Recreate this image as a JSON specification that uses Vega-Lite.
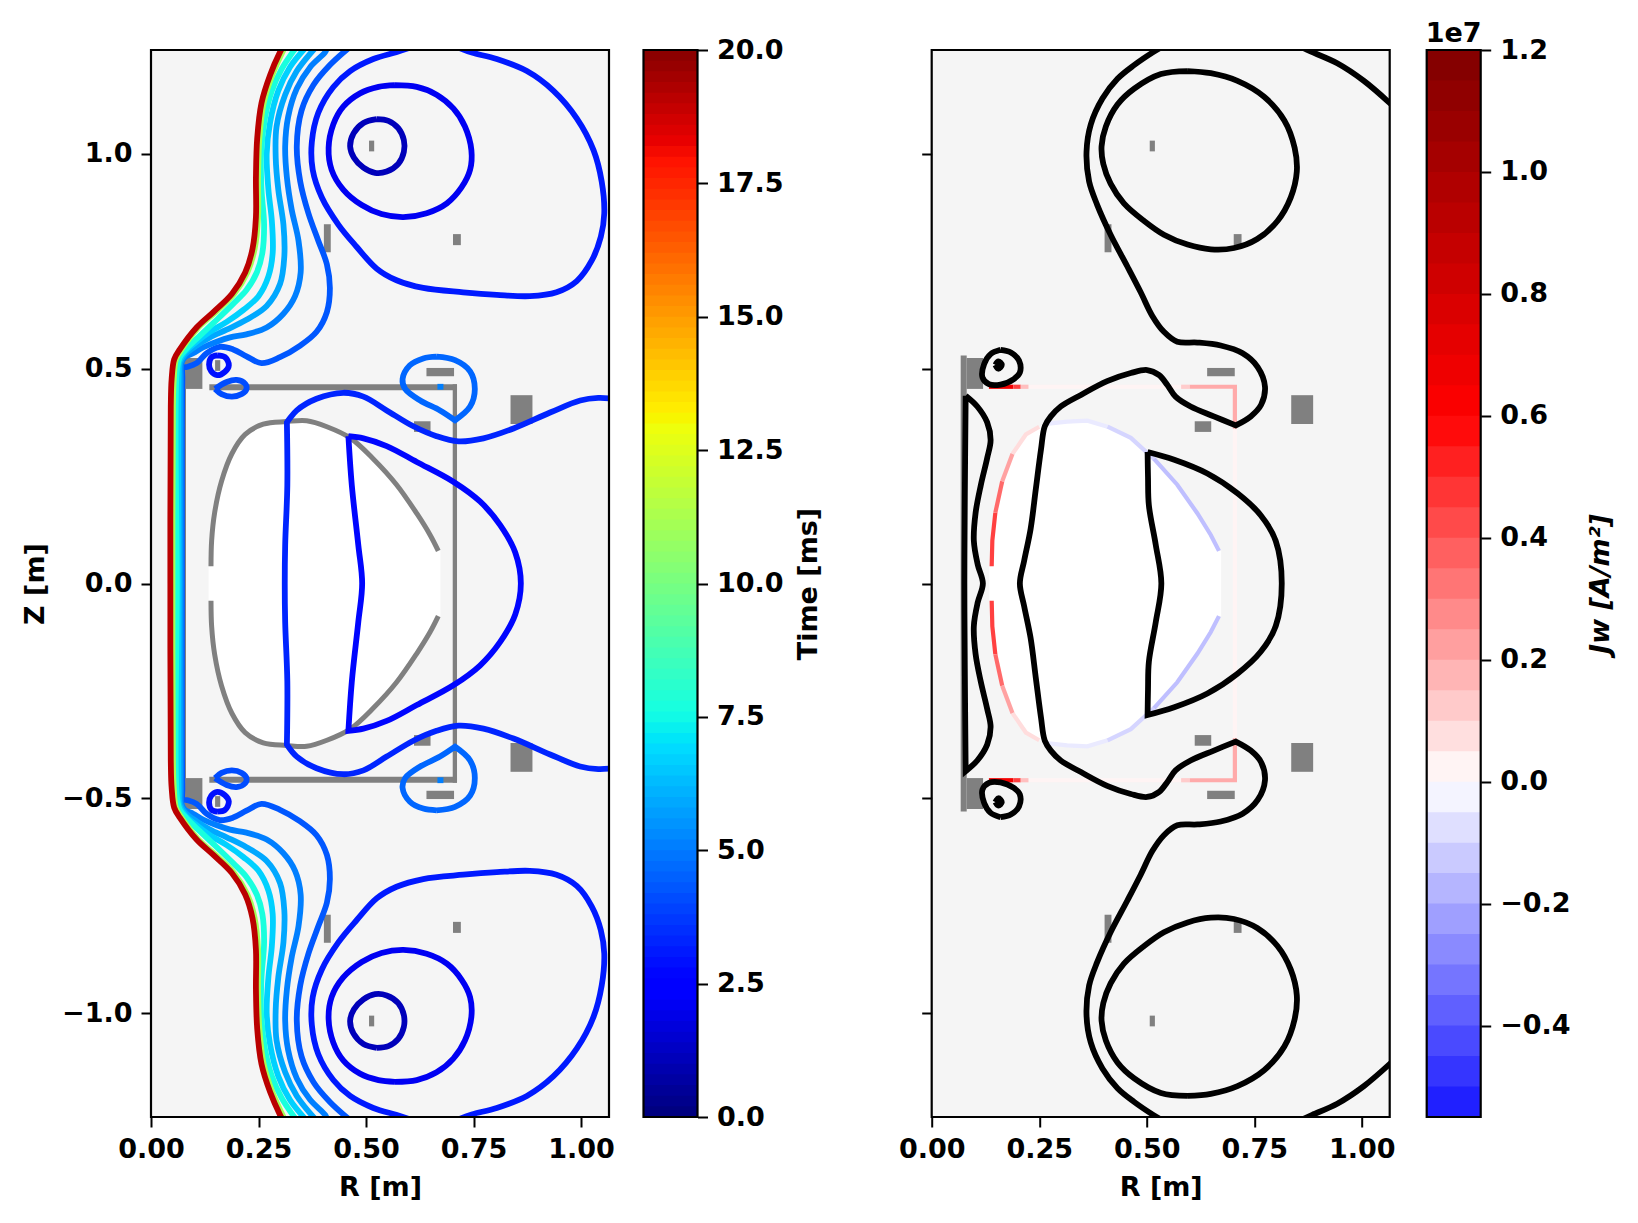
{"$schema":"https://vega.github.io/schema/vega-lite/v6.json","padding":{"left":21,"top":20,"right":10,"bottom":10},"spacing":75.7,"resolve":{"scale":{"color":"independent"}},
"config":{"axis":{"grid":false,"domain":false,"labelFont":"DejaVu Sans","labelFontWeight":"bold","labelFontSize":27,"titleFont":"DejaVu Sans","titleFontWeight":"bold","titleFontSize":27,"tickSize":10,"tickWidth":2,"tickColor":"black","labelColor":"black","titleColor":"black","labelPadding":9,"labelOverlap":false,"labelFlush":false,"titlePadding":12}},
"datasets":{
"coils":[
{"r":0.0674,"r2":0.0814,"z":0.531,"z2":-0.531},
{"r":0.0814,"r2":0.1195,"z":0.525,"z2":0.453},{"r":0.0814,"r2":0.1195,"z":-0.525,"z2":-0.453},
{"r":0.149,"r2":0.161,"z":0.52,"z2":0.495},{"r":0.149,"r2":0.161,"z":-0.52,"z2":-0.495},
{"r":0.7023,"r2":0.7205,"z":0.8134,"z2":0.7877},{"r":0.7023,"r2":0.7205,"z":-0.8134,"z2":-0.7877},
{"r":0.402,"r2":0.418,"z":0.8364,"z2":0.7711},{"r":0.402,"r2":0.418,"z":-0.8364,"z2":-0.7711},
{"r":0.507,"r2":0.519,"z":1.031,"z2":1.006},{"r":0.507,"r2":0.519,"z":-1.031,"z2":-1.006},
{"r":0.6405,"r2":0.7047,"z":0.5018,"z2":0.4825},{"r":0.6405,"r2":0.7047,"z":-0.5018,"z2":-0.4825},
{"r":0.6116,"r2":0.65,"z":0.3777,"z2":0.3529},{"r":0.6116,"r2":0.65,"z":-0.3777,"z2":-0.3529},
{"r":0.836,"r2":0.887,"z":0.4384,"z2":0.3713},{"r":0.836,"r2":0.887,"z":-0.4384,"z2":-0.3713}],
"walls":[
{"r":0.1356,"r2":0.7116,"z":0.464,"z2":0.45},{"r":0.1356,"r2":0.7116,"z":-0.464,"z2":-0.45},{"r":0.7016,"r2":0.7116,"z":0.464,"z2":-0.464}],
"frame":[{"r":0,"r2":1.065,"z":-1.242,"z2":1.242}],
"inner":[
{"r":0.134,"z":0.04,"z2":-0.04},{"r":0.1395,"z":0.04,"z2":-0.04},{"r":0.141,"z":0.1,"z2":-0.1},{"r":0.148,"z":0.165,"z2":-0.165},{"r":0.164,"z":0.238,"z2":-0.238},{"r":0.188,"z":0.302,"z2":-0.302},{"r":0.219,"z":0.347,"z2":-0.347},{"r":0.261,"z":0.371,"z2":-0.371},{"r":0.315,"z":0.377,"z2":-0.377},{"r":0.362,"z":0.379,"z2":-0.379},{"r":0.409,"z":0.365,"z2":-0.365},{"r":0.463,"z":0.339,"z2":-0.339},{"r":0.517,"z":0.29,"z2":-0.29},{"r":0.571,"z":0.23,"z2":-0.23},{"r":0.618,"z":0.163,"z2":-0.163},{"r":0.649,"z":0.113,"z2":-0.113},{"r":0.668,"z":0.076,"z2":-0.076},{"r":0.673,"z":0.076,"z2":-0.076}],
"outline":[
{"c":"u","r":0.1395,"z":0.04},{"c":"u","r":0.141,"z":0.1},{"c":"u","r":0.148,"z":0.165},{"c":"u","r":0.164,"z":0.238},{"c":"u","r":0.188,"z":0.302},{"c":"u","r":0.219,"z":0.347},{"c":"u","r":0.261,"z":0.371},{"c":"u","r":0.315,"z":0.377},{"c":"u","r":0.362,"z":0.379},{"c":"u","r":0.409,"z":0.365},{"c":"u","r":0.463,"z":0.339},{"c":"u","r":0.517,"z":0.29},{"c":"u","r":0.571,"z":0.23},{"c":"u","r":0.618,"z":0.163},{"c":"u","r":0.649,"z":0.113},{"c":"u","r":0.668,"z":0.076},
{"c":"d","r":0.1395,"z":-0.04},{"c":"d","r":0.141,"z":-0.1},{"c":"d","r":0.148,"z":-0.165},{"c":"d","r":0.164,"z":-0.238},{"c":"d","r":0.188,"z":-0.302},{"c":"d","r":0.219,"z":-0.347},{"c":"d","r":0.261,"z":-0.371},{"c":"d","r":0.315,"z":-0.377},{"c":"d","r":0.362,"z":-0.379},{"c":"d","r":0.409,"z":-0.365},{"c":"d","r":0.463,"z":-0.339},{"c":"d","r":0.517,"z":-0.29},{"c":"d","r":0.571,"z":-0.23},{"c":"d","r":0.618,"z":-0.163},{"c":"d","r":0.649,"z":-0.113},{"c":"d","r":0.668,"z":-0.076}],
"time":[
{"c":"a","t":1,"r":0.525,"z":1.081},{"c":"a","t":1,"r":0.552,"z":1.077},{"c":"a","t":1,"r":0.575,"z":1.06},{"c":"a","t":1,"r":0.588,"z":1.032},{"c":"a","t":1,"r":0.588,"z":1.005},{"c":"a","t":1,"r":0.575,"z":0.977},{"c":"a","t":1,"r":0.548,"z":0.959},{"c":"a","t":1,"r":0.521,"z":0.956},{"c":"a","t":1,"r":0.494,"z":0.968},{"c":"a","t":1,"r":0.472,"z":0.991},{"c":"a","t":1,"r":0.463,"z":1.018},{"c":"a","t":1,"r":0.471,"z":1.048},{"c":"a","t":1,"r":0.494,"z":1.072},{"c":"a","t":1,"r":0.525,"z":1.081},
{"c":"a'","t":1,"r":0.525,"z":-1.081},{"c":"a'","t":1,"r":0.552,"z":-1.077},{"c":"a'","t":1,"r":0.575,"z":-1.06},{"c":"a'","t":1,"r":0.588,"z":-1.032},{"c":"a'","t":1,"r":0.588,"z":-1.005},{"c":"a'","t":1,"r":0.575,"z":-0.977},{"c":"a'","t":1,"r":0.548,"z":-0.959},{"c":"a'","t":1,"r":0.521,"z":-0.956},{"c":"a'","t":1,"r":0.494,"z":-0.968},{"c":"a'","t":1,"r":0.472,"z":-0.991},{"c":"a'","t":1,"r":0.463,"z":-1.018},{"c":"a'","t":1,"r":0.471,"z":-1.048},{"c":"a'","t":1,"r":0.494,"z":-1.072},{"c":"a'","t":1,"r":0.525,"z":-1.081},
{"c":"b","t":2,"r":0.567,"z":1.16},{"c":"b","t":2,"r":0.618,"z":1.156},{"c":"b","t":2,"r":0.664,"z":1.138},{"c":"b","t":2,"r":0.703,"z":1.106},{"c":"b","t":2,"r":0.73,"z":1.064},{"c":"b","t":2,"r":0.745,"z":1.009},{"c":"b","t":2,"r":0.742,"z":0.963},{"c":"b","t":2,"r":0.722,"z":0.922},{"c":"b","t":2,"r":0.688,"z":0.885},{"c":"b","t":2,"r":0.641,"z":0.862},{"c":"b","t":2,"r":0.587,"z":0.853},{"c":"b","t":2,"r":0.536,"z":0.86},{"c":"b","t":2,"r":0.49,"z":0.881},{"c":"b","t":2,"r":0.447,"z":0.917},{"c":"b","t":2,"r":0.42,"z":0.963},{"c":"b","t":2,"r":0.413,"z":1.014},{"c":"b","t":2,"r":0.424,"z":1.069},{"c":"b","t":2,"r":0.447,"z":1.11},{"c":"b","t":2,"r":0.486,"z":1.141},{"c":"b","t":2,"r":0.529,"z":1.156},{"c":"b","t":2,"r":0.567,"z":1.16},
{"c":"b'","t":2,"r":0.567,"z":-1.16},{"c":"b'","t":2,"r":0.618,"z":-1.156},{"c":"b'","t":2,"r":0.664,"z":-1.138},{"c":"b'","t":2,"r":0.703,"z":-1.106},{"c":"b'","t":2,"r":0.73,"z":-1.064},{"c":"b'","t":2,"r":0.745,"z":-1.009},{"c":"b'","t":2,"r":0.742,"z":-0.963},{"c":"b'","t":2,"r":0.722,"z":-0.922},{"c":"b'","t":2,"r":0.688,"z":-0.885},{"c":"b'","t":2,"r":0.641,"z":-0.862},{"c":"b'","t":2,"r":0.587,"z":-0.853},{"c":"b'","t":2,"r":0.536,"z":-0.86},{"c":"b'","t":2,"r":0.49,"z":-0.881},{"c":"b'","t":2,"r":0.447,"z":-0.917},{"c":"b'","t":2,"r":0.42,"z":-0.963},{"c":"b'","t":2,"r":0.413,"z":-1.014},{"c":"b'","t":2,"r":0.424,"z":-1.069},{"c":"b'","t":2,"r":0.447,"z":-1.11},{"c":"b'","t":2,"r":0.486,"z":-1.141},{"c":"b'","t":2,"r":0.529,"z":-1.156},{"c":"b'","t":2,"r":0.567,"z":-1.16},
{"c":"c2","t":2.6,"r":0.459,"z":0.343},{"c":"c2","t":2.6,"r":0.459,"z":0.343},{"c":"c2","t":2.6,"r":0.494,"z":0.338},{"c":"c2","t":2.6,"r":0.548,"z":0.32},{"c":"c2","t":2.6,"r":0.618,"z":0.283},{"c":"c2","t":2.6,"r":0.703,"z":0.237},{"c":"c2","t":2.6,"r":0.765,"z":0.191},{"c":"c2","t":2.6,"r":0.812,"z":0.136},{"c":"c2","t":2.6,"r":0.847,"z":0.072},{"c":"c2","t":2.6,"r":0.86,"z":0},{"c":"c2","t":2.6,"r":0.847,"z":-0.072},{"c":"c2","t":2.6,"r":0.812,"z":-0.136},{"c":"c2","t":2.6,"r":0.765,"z":-0.191},{"c":"c2","t":2.6,"r":0.703,"z":-0.237},{"c":"c2","t":2.6,"r":0.618,"z":-0.283},{"c":"c2","t":2.6,"r":0.548,"z":-0.32},{"c":"c2","t":2.6,"r":0.494,"z":-0.338},{"c":"c2","t":2.6,"r":0.459,"z":-0.343},{"c":"c2","t":2.6,"r":0.459,"z":-0.343},{"c":"c2","t":2.6,"r":0.467,"z":-0.228},{"c":"c2","t":2.6,"r":0.482,"z":-0.09},{"c":"c2","t":2.6,"r":0.491,"z":0},{"c":"c2","t":2.6,"r":0.482,"z":0.09},{"c":"c2","t":2.6,"r":0.467,"z":0.228},{"c":"c2","t":2.6,"r":0.459,"z":0.343},
{"c":"e","t":2.8,"r":0.154,"z":0.531},{"c":"e","t":2.8,"r":0.172,"z":0.527},{"c":"e","t":2.8,"r":0.181,"z":0.508},{"c":"e","t":2.8,"r":0.172,"z":0.493},{"c":"e","t":2.8,"r":0.154,"z":0.485},{"c":"e","t":2.8,"r":0.14,"z":0.494},{"c":"e","t":2.8,"r":0.135,"z":0.51},{"c":"e","t":2.8,"r":0.141,"z":0.527},{"c":"e","t":2.8,"r":0.154,"z":0.531},
{"c":"e'","t":2.8,"r":0.154,"z":-0.531},{"c":"e'","t":2.8,"r":0.172,"z":-0.527},{"c":"e'","t":2.8,"r":0.181,"z":-0.508},{"c":"e'","t":2.8,"r":0.172,"z":-0.493},{"c":"e'","t":2.8,"r":0.154,"z":-0.485},{"c":"e'","t":2.8,"r":0.14,"z":-0.494},{"c":"e'","t":2.8,"r":0.135,"z":-0.51},{"c":"e'","t":2.8,"r":0.141,"z":-0.527},{"c":"e'","t":2.8,"r":0.154,"z":-0.531},
{"c":"f","t":3,"r":0.598,"z":1.246},{"c":"f","t":3,"r":0.57,"z":1.237},{"c":"f","t":3,"r":0.517,"z":1.221},{"c":"f","t":3,"r":0.463,"z":1.193},{"c":"f","t":3,"r":0.424,"z":1.156},{"c":"f","t":3,"r":0.389,"z":1.096},{"c":"f","t":3,"r":0.374,"z":1.028},{"c":"f","t":3,"r":0.376,"z":0.963},{"c":"f","t":3,"r":0.397,"z":0.899},{"c":"f","t":3,"r":0.436,"z":0.835},{"c":"f","t":3,"r":0.478,"z":0.784},{"c":"f","t":3,"r":0.525,"z":0.733},{"c":"f","t":3,"r":0.571,"z":0.706},{"c":"f","t":3,"r":0.633,"z":0.688},{"c":"f","t":3,"r":0.726,"z":0.678},{"c":"f","t":3,"r":0.804,"z":0.672},{"c":"f","t":3,"r":0.881,"z":0.669},{"c":"f","t":3,"r":0.943,"z":0.678},{"c":"f","t":3,"r":0.99,"z":0.704},{"c":"f","t":3,"r":1.025,"z":0.752},{"c":"f","t":3,"r":1.046,"z":0.807},{"c":"f","t":3,"r":1.054,"z":0.862},{"c":"f","t":3,"r":1.048,"z":0.936},{"c":"f","t":3,"r":1.029,"z":1.009},{"c":"f","t":3,"r":0.99,"z":1.083},{"c":"f","t":3,"r":0.936,"z":1.147},{"c":"f","t":3,"r":0.874,"z":1.193},{"c":"f","t":3,"r":0.804,"z":1.221},{"c":"f","t":3,"r":0.746,"z":1.236},{"c":"f","t":3,"r":0.719,"z":1.246},
{"c":"f'","t":3,"r":0.598,"z":-1.246},{"c":"f'","t":3,"r":0.57,"z":-1.237},{"c":"f'","t":3,"r":0.517,"z":-1.221},{"c":"f'","t":3,"r":0.463,"z":-1.193},{"c":"f'","t":3,"r":0.424,"z":-1.156},{"c":"f'","t":3,"r":0.389,"z":-1.096},{"c":"f'","t":3,"r":0.374,"z":-1.028},{"c":"f'","t":3,"r":0.376,"z":-0.963},{"c":"f'","t":3,"r":0.397,"z":-0.899},{"c":"f'","t":3,"r":0.436,"z":-0.835},{"c":"f'","t":3,"r":0.478,"z":-0.784},{"c":"f'","t":3,"r":0.525,"z":-0.733},{"c":"f'","t":3,"r":0.571,"z":-0.706},{"c":"f'","t":3,"r":0.633,"z":-0.688},{"c":"f'","t":3,"r":0.726,"z":-0.678},{"c":"f'","t":3,"r":0.804,"z":-0.672},{"c":"f'","t":3,"r":0.881,"z":-0.669},{"c":"f'","t":3,"r":0.943,"z":-0.678},{"c":"f'","t":3,"r":0.99,"z":-0.704},{"c":"f'","t":3,"r":1.025,"z":-0.752},{"c":"f'","t":3,"r":1.046,"z":-0.807},{"c":"f'","t":3,"r":1.054,"z":-0.862},{"c":"f'","t":3,"r":1.048,"z":-0.936},{"c":"f'","t":3,"r":1.029,"z":-1.009},{"c":"f'","t":3,"r":0.99,"z":-1.083},{"c":"f'","t":3,"r":0.936,"z":-1.147},{"c":"f'","t":3,"r":0.874,"z":-1.193},{"c":"f'","t":3,"r":0.804,"z":-1.221},{"c":"f'","t":3,"r":0.746,"z":-1.236},{"c":"f'","t":3,"r":0.719,"z":-1.246},
{"c":"c1","t":3.2,"r":1.075,"z":0.43},{"c":"c1","t":3.2,"r":1.04,"z":0.432},{"c":"c1","t":3.2,"r":0.998,"z":0.426},{"c":"c1","t":3.2,"r":0.928,"z":0.398},{"c":"c1","t":3.2,"r":0.843,"z":0.361},{"c":"c1","t":3.2,"r":0.773,"z":0.338},{"c":"c1","t":3.2,"r":0.715,"z":0.331},{"c":"c1","t":3.2,"r":0.664,"z":0.343},{"c":"c1","t":3.2,"r":0.61,"z":0.366},{"c":"c1","t":3.2,"r":0.548,"z":0.403},{"c":"c1","t":3.2,"r":0.494,"z":0.435},{"c":"c1","t":3.2,"r":0.447,"z":0.444},{"c":"c1","t":3.2,"r":0.385,"z":0.43},{"c":"c1","t":3.2,"r":0.339,"z":0.403},{"c":"c1","t":3.2,"r":0.316,"z":0.375},{"c":"c1","t":3.2,"r":0.316,"z":0.375},{"c":"c1","t":3.2,"r":0.317,"z":0.228},{"c":"c1","t":3.2,"r":0.312,"z":0.09},{"c":"c1","t":3.2,"r":0.311,"z":0},{"c":"c1","t":3.2,"r":0.312,"z":-0.09},{"c":"c1","t":3.2,"r":0.317,"z":-0.228},{"c":"c1","t":3.2,"r":0.316,"z":-0.375},{"c":"c1","t":3.2,"r":0.316,"z":-0.375},{"c":"c1","t":3.2,"r":0.339,"z":-0.403},{"c":"c1","t":3.2,"r":0.385,"z":-0.43},{"c":"c1","t":3.2,"r":0.447,"z":-0.444},{"c":"c1","t":3.2,"r":0.494,"z":-0.435},{"c":"c1","t":3.2,"r":0.548,"z":-0.403},{"c":"c1","t":3.2,"r":0.61,"z":-0.366},{"c":"c1","t":3.2,"r":0.664,"z":-0.343},{"c":"c1","t":3.2,"r":0.715,"z":-0.331},{"c":"c1","t":3.2,"r":0.773,"z":-0.338},{"c":"c1","t":3.2,"r":0.843,"z":-0.361},{"c":"c1","t":3.2,"r":0.928,"z":-0.398},{"c":"c1","t":3.2,"r":0.998,"z":-0.426},{"c":"c1","t":3.2,"r":1.04,"z":-0.432},{"c":"c1","t":3.2,"r":1.075,"z":-0.43},
{"c":"g","t":4,"r":0.149,"z":0.453},{"c":"g","t":4,"r":0.176,"z":0.469},{"c":"g","t":4,"r":0.199,"z":0.474},{"c":"g","t":4,"r":0.219,"z":0.465},{"c":"g","t":4,"r":0.222,"z":0.453},{"c":"g","t":4,"r":0.211,"z":0.441},{"c":"g","t":4,"r":0.188,"z":0.435},{"c":"g","t":4,"r":0.164,"z":0.441},{"c":"g","t":4,"r":0.149,"z":0.453},
{"c":"g'","t":4,"r":0.149,"z":-0.453},{"c":"g'","t":4,"r":0.176,"z":-0.469},{"c":"g'","t":4,"r":0.199,"z":-0.474},{"c":"g'","t":4,"r":0.219,"z":-0.465},{"c":"g'","t":4,"r":0.222,"z":-0.453},{"c":"g'","t":4,"r":0.211,"z":-0.441},{"c":"g'","t":4,"r":0.188,"z":-0.435},{"c":"g'","t":4,"r":0.164,"z":-0.441},{"c":"g'","t":4,"r":0.149,"z":-0.453},
{"c":"h","t":4.2,"r":0.459,"z":1.246},{"c":"h","t":4.2,"r":0.416,"z":1.207},{"c":"h","t":4.2,"r":0.378,"z":1.161},{"c":"h","t":4.2,"r":0.35,"z":1.101},{"c":"h","t":4.2,"r":0.339,"z":1.018},{"c":"h","t":4.2,"r":0.347,"z":0.936},{"c":"h","t":4.2,"r":0.366,"z":0.862},{"c":"h","t":4.2,"r":0.389,"z":0.798},{"c":"h","t":4.2,"r":0.409,"z":0.743},{"c":"h","t":4.2,"r":0.416,"z":0.688},{"c":"h","t":4.2,"r":0.409,"z":0.632},{"c":"h","t":4.2,"r":0.385,"z":0.586},{"c":"h","t":4.2,"r":0.347,"z":0.554},{"c":"h","t":4.2,"r":0.3,"z":0.527},{"c":"h","t":4.2,"r":0.257,"z":0.513},{"c":"h","t":4.2,"r":0.222,"z":0.529},{"c":"h","t":4.2,"r":0.191,"z":0.545},{"c":"h","t":4.2,"r":0.16,"z":0.551},{"c":"h","t":4.2,"r":0.129,"z":0.536},{"c":"h","t":4.2,"r":0.106,"z":0.513},{"c":"h","t":4.2,"r":0.083,"z":0.504},{"c":"h","t":4.2,"r":0.074,"z":0.502},{"c":"h","t":4.2,"r":0.073,"z":0.476},{"c":"h","t":4.2,"r":0.072,"z":0.366},{"c":"h","t":4.2,"r":0.072,"z":0},{"c":"h","t":4.2,"r":0.072,"z":-0.366},{"c":"h","t":4.2,"r":0.073,"z":-0.476},{"c":"h","t":4.2,"r":0.074,"z":-0.502},{"c":"h","t":4.2,"r":0.083,"z":-0.504},{"c":"h","t":4.2,"r":0.106,"z":-0.513},{"c":"h","t":4.2,"r":0.129,"z":-0.536},{"c":"h","t":4.2,"r":0.16,"z":-0.551},{"c":"h","t":4.2,"r":0.191,"z":-0.545},{"c":"h","t":4.2,"r":0.222,"z":-0.529},{"c":"h","t":4.2,"r":0.257,"z":-0.513},{"c":"h","t":4.2,"r":0.3,"z":-0.527},{"c":"h","t":4.2,"r":0.347,"z":-0.554},{"c":"h","t":4.2,"r":0.385,"z":-0.586},{"c":"h","t":4.2,"r":0.409,"z":-0.632},{"c":"h","t":4.2,"r":0.416,"z":-0.688},{"c":"h","t":4.2,"r":0.409,"z":-0.743},{"c":"h","t":4.2,"r":0.389,"z":-0.798},{"c":"h","t":4.2,"r":0.366,"z":-0.862},{"c":"h","t":4.2,"r":0.347,"z":-0.936},{"c":"h","t":4.2,"r":0.339,"z":-1.018},{"c":"h","t":4.2,"r":0.35,"z":-1.101},{"c":"h","t":4.2,"r":0.378,"z":-1.161},{"c":"h","t":4.2,"r":0.416,"z":-1.207},{"c":"h","t":4.2,"r":0.459,"z":-1.246},
{"c":"k","t":4.5,"r":0.664,"z":0.528},{"c":"k","t":4.5,"r":0.707,"z":0.52},{"c":"k","t":4.5,"r":0.742,"z":0.494},{"c":"k","t":4.5,"r":0.753,"z":0.453},{"c":"k","t":4.5,"r":0.742,"z":0.412},{"c":"k","t":4.5,"r":0.707,"z":0.38},{"c":"k","t":4.5,"r":0.707,"z":0.38},{"c":"k","t":4.5,"r":0.672,"z":0.403},{"c":"k","t":4.5,"r":0.626,"z":0.426},{"c":"k","t":4.5,"r":0.591,"z":0.453},{"c":"k","t":4.5,"r":0.585,"z":0.476},{"c":"k","t":4.5,"r":0.602,"z":0.508},{"c":"k","t":4.5,"r":0.633,"z":0.524},{"c":"k","t":4.5,"r":0.664,"z":0.528},
{"c":"k'","t":4.5,"r":0.664,"z":-0.528},{"c":"k'","t":4.5,"r":0.707,"z":-0.52},{"c":"k'","t":4.5,"r":0.742,"z":-0.494},{"c":"k'","t":4.5,"r":0.753,"z":-0.453},{"c":"k'","t":4.5,"r":0.742,"z":-0.412},{"c":"k'","t":4.5,"r":0.707,"z":-0.38},{"c":"k'","t":4.5,"r":0.707,"z":-0.38},{"c":"k'","t":4.5,"r":0.672,"z":-0.403},{"c":"k'","t":4.5,"r":0.626,"z":-0.426},{"c":"k'","t":4.5,"r":0.591,"z":-0.453},{"c":"k'","t":4.5,"r":0.585,"z":-0.476},{"c":"k'","t":4.5,"r":0.602,"z":-0.508},{"c":"k'","t":4.5,"r":0.633,"z":-0.524},{"c":"k'","t":4.5,"r":0.664,"z":-0.528},
{"c":"s","t":5,"r":0.666,"z":0.458},{"c":"s","t":5,"r":0.68,"z":0.458},
{"c":"s'","t":5,"r":0.666,"z":-0.458},{"c":"s'","t":5,"r":0.68,"z":-0.458},
{"c":"l","t":5,"r":0.409,"z":1.246},{"c":"l","t":5,"r":0.405,"z":1.237},{"c":"l","t":5,"r":0.37,"z":1.202},{"c":"l","t":5,"r":0.339,"z":1.152},{"c":"l","t":5,"r":0.319,"z":1.087},{"c":"l","t":5,"r":0.312,"z":1.018},{"c":"l","t":5,"r":0.316,"z":0.945},{"c":"l","t":5,"r":0.327,"z":0.871},{"c":"l","t":5,"r":0.343,"z":0.798},{"c":"l","t":5,"r":0.348,"z":0.724},{"c":"l","t":5,"r":0.335,"z":0.669},{"c":"l","t":5,"r":0.308,"z":0.628},{"c":"l","t":5,"r":0.269,"z":0.596},{"c":"l","t":5,"r":0.222,"z":0.58},{"c":"l","t":5,"r":0.184,"z":0.573},{"c":"l","t":5,"r":0.153,"z":0.563},{"c":"l","t":5,"r":0.122,"z":0.55},{"c":"l","t":5,"r":0.098,"z":0.536},{"c":"l","t":5,"r":0.079,"z":0.527},{"c":"l","t":5,"r":0.071,"z":0.513},{"c":"l","t":5,"r":0.07,"z":0.476},{"c":"l","t":5,"r":0.07,"z":0},{"c":"l","t":5,"r":0.07,"z":-0.476},{"c":"l","t":5,"r":0.071,"z":-0.513},{"c":"l","t":5,"r":0.079,"z":-0.527},{"c":"l","t":5,"r":0.098,"z":-0.536},{"c":"l","t":5,"r":0.122,"z":-0.55},{"c":"l","t":5,"r":0.153,"z":-0.563},{"c":"l","t":5,"r":0.184,"z":-0.573},{"c":"l","t":5,"r":0.222,"z":-0.58},{"c":"l","t":5,"r":0.269,"z":-0.596},{"c":"l","t":5,"r":0.308,"z":-0.628},{"c":"l","t":5,"r":0.335,"z":-0.669},{"c":"l","t":5,"r":0.348,"z":-0.724},{"c":"l","t":5,"r":0.343,"z":-0.798},{"c":"l","t":5,"r":0.327,"z":-0.871},{"c":"l","t":5,"r":0.316,"z":-0.945},{"c":"l","t":5,"r":0.312,"z":-1.018},{"c":"l","t":5,"r":0.319,"z":-1.087},{"c":"l","t":5,"r":0.339,"z":-1.152},{"c":"l","t":5,"r":0.37,"z":-1.202},{"c":"l","t":5,"r":0.405,"z":-1.237},{"c":"l","t":5,"r":0.409,"z":-1.246},
{"c":"m","t":5.8,"r":0.381,"z":1.246},{"c":"m","t":5.8,"r":0.339,"z":1.193},{"c":"m","t":5.8,"r":0.312,"z":1.138},{"c":"m","t":5.8,"r":0.292,"z":1.064},{"c":"m","t":5.8,"r":0.29,"z":0.991},{"c":"m","t":5.8,"r":0.296,"z":0.917},{"c":"m","t":5.8,"r":0.308,"z":0.835},{"c":"m","t":5.8,"r":0.31,"z":0.761},{"c":"m","t":5.8,"r":0.3,"z":0.697},{"c":"m","t":5.8,"r":0.269,"z":0.646},{"c":"m","t":5.8,"r":0.222,"z":0.614},{"c":"m","t":5.8,"r":0.176,"z":0.591},{"c":"m","t":5.8,"r":0.137,"z":0.573},{"c":"m","t":5.8,"r":0.106,"z":0.554},{"c":"m","t":5.8,"r":0.079,"z":0.533},{"c":"m","t":5.8,"r":0.068,"z":0.513},{"c":"m","t":5.8,"r":0.067,"z":0.476},{"c":"m","t":5.8,"r":0.067,"z":0},{"c":"m","t":5.8,"r":0.067,"z":-0.476},{"c":"m","t":5.8,"r":0.068,"z":-0.513},{"c":"m","t":5.8,"r":0.079,"z":-0.533},{"c":"m","t":5.8,"r":0.106,"z":-0.554},{"c":"m","t":5.8,"r":0.137,"z":-0.573},{"c":"m","t":5.8,"r":0.176,"z":-0.591},{"c":"m","t":5.8,"r":0.222,"z":-0.614},{"c":"m","t":5.8,"r":0.269,"z":-0.646},{"c":"m","t":5.8,"r":0.3,"z":-0.697},{"c":"m","t":5.8,"r":0.31,"z":-0.761},{"c":"m","t":5.8,"r":0.308,"z":-0.835},{"c":"m","t":5.8,"r":0.296,"z":-0.917},{"c":"m","t":5.8,"r":0.29,"z":-0.991},{"c":"m","t":5.8,"r":0.292,"z":-1.064},{"c":"m","t":5.8,"r":0.312,"z":-1.138},{"c":"m","t":5.8,"r":0.339,"z":-1.193},{"c":"m","t":5.8,"r":0.381,"z":-1.246},
{"c":"n","t":6.6,"r":0.358,"z":1.246},{"c":"n","t":6.6,"r":0.323,"z":1.202},{"c":"n","t":6.6,"r":0.296,"z":1.147},{"c":"n","t":6.6,"r":0.277,"z":1.074},{"c":"n","t":6.6,"r":0.269,"z":1},{"c":"n","t":6.6,"r":0.273,"z":0.917},{"c":"n","t":6.6,"r":0.281,"z":0.844},{"c":"n","t":6.6,"r":0.283,"z":0.77},{"c":"n","t":6.6,"r":0.273,"z":0.715},{"c":"n","t":6.6,"r":0.25,"z":0.669},{"c":"n","t":6.6,"r":0.215,"z":0.637},{"c":"n","t":6.6,"r":0.176,"z":0.609},{"c":"n","t":6.6,"r":0.137,"z":0.586},{"c":"n","t":6.6,"r":0.106,"z":0.563},{"c":"n","t":6.6,"r":0.079,"z":0.539},{"c":"n","t":6.6,"r":0.066,"z":0.517},{"c":"n","t":6.6,"r":0.064,"z":0.485},{"c":"n","t":6.6,"r":0.064,"z":0},{"c":"n","t":6.6,"r":0.064,"z":-0.485},{"c":"n","t":6.6,"r":0.066,"z":-0.517},{"c":"n","t":6.6,"r":0.079,"z":-0.539},{"c":"n","t":6.6,"r":0.106,"z":-0.563},{"c":"n","t":6.6,"r":0.137,"z":-0.586},{"c":"n","t":6.6,"r":0.176,"z":-0.609},{"c":"n","t":6.6,"r":0.215,"z":-0.637},{"c":"n","t":6.6,"r":0.25,"z":-0.669},{"c":"n","t":6.6,"r":0.273,"z":-0.715},{"c":"n","t":6.6,"r":0.283,"z":-0.77},{"c":"n","t":6.6,"r":0.281,"z":-0.844},{"c":"n","t":6.6,"r":0.273,"z":-0.917},{"c":"n","t":6.6,"r":0.269,"z":-1},{"c":"n","t":6.6,"r":0.277,"z":-1.074},{"c":"n","t":6.6,"r":0.296,"z":-1.147},{"c":"n","t":6.6,"r":0.323,"z":-1.202},{"c":"n","t":6.6,"r":0.358,"z":-1.246},
{"c":"o","t":7.6,"r":0.336,"z":1.246},{"c":"o","t":7.6,"r":0.304,"z":1.198},{"c":"o","t":7.6,"r":0.281,"z":1.147},{"c":"o","t":7.6,"r":0.265,"z":1.083},{"c":"o","t":7.6,"r":0.256,"z":1},{"c":"o","t":7.6,"r":0.257,"z":0.917},{"c":"o","t":7.6,"r":0.263,"z":0.835},{"c":"o","t":7.6,"r":0.259,"z":0.77},{"c":"o","t":7.6,"r":0.246,"z":0.724},{"c":"o","t":7.6,"r":0.222,"z":0.683},{"c":"o","t":7.6,"r":0.191,"z":0.651},{"c":"o","t":7.6,"r":0.153,"z":0.614},{"c":"o","t":7.6,"r":0.114,"z":0.577},{"c":"o","t":7.6,"r":0.083,"z":0.547},{"c":"o","t":7.6,"r":0.067,"z":0.527},{"c":"o","t":7.6,"r":0.06,"z":0.494},{"c":"o","t":7.6,"r":0.06,"z":0},{"c":"o","t":7.6,"r":0.06,"z":-0.494},{"c":"o","t":7.6,"r":0.067,"z":-0.527},{"c":"o","t":7.6,"r":0.083,"z":-0.547},{"c":"o","t":7.6,"r":0.114,"z":-0.577},{"c":"o","t":7.6,"r":0.153,"z":-0.614},{"c":"o","t":7.6,"r":0.191,"z":-0.651},{"c":"o","t":7.6,"r":0.222,"z":-0.683},{"c":"o","t":7.6,"r":0.246,"z":-0.724},{"c":"o","t":7.6,"r":0.259,"z":-0.77},{"c":"o","t":7.6,"r":0.263,"z":-0.835},{"c":"o","t":7.6,"r":0.257,"z":-0.917},{"c":"o","t":7.6,"r":0.256,"z":-1},{"c":"o","t":7.6,"r":0.265,"z":-1.083},{"c":"o","t":7.6,"r":0.281,"z":-1.147},{"c":"o","t":7.6,"r":0.304,"z":-1.198},{"c":"o","t":7.6,"r":0.336,"z":-1.246},
{"c":"p","t":11,"r":0.31,"z":1.246},{"c":"p","t":11,"r":0.282,"z":1.184},{"c":"p","t":11,"r":0.262,"z":1.119},{"c":"p","t":11,"r":0.252,"z":1.037},{"c":"p","t":11,"r":0.249,"z":0.945},{"c":"p","t":11,"r":0.249,"z":0.853},{"c":"p","t":11,"r":0.241,"z":0.779},{"c":"p","t":11,"r":0.224,"z":0.724},{"c":"p","t":11,"r":0.193,"z":0.674},{"c":"p","t":11,"r":0.15,"z":0.632},{"c":"p","t":11,"r":0.11,"z":0.596},{"c":"p","t":11,"r":0.071,"z":0.545},{"c":"p","t":11,"r":0.058,"z":0.522},{"c":"p","t":11,"r":0.053,"z":0.476},{"c":"p","t":11,"r":0.051,"z":0.412},{"c":"p","t":11,"r":0.05,"z":0},{"c":"p","t":11,"r":0.051,"z":-0.412},{"c":"p","t":11,"r":0.053,"z":-0.476},{"c":"p","t":11,"r":0.058,"z":-0.522},{"c":"p","t":11,"r":0.071,"z":-0.545},{"c":"p","t":11,"r":0.11,"z":-0.596},{"c":"p","t":11,"r":0.15,"z":-0.632},{"c":"p","t":11,"r":0.193,"z":-0.674},{"c":"p","t":11,"r":0.224,"z":-0.724},{"c":"p","t":11,"r":0.241,"z":-0.779},{"c":"p","t":11,"r":0.249,"z":-0.853},{"c":"p","t":11,"r":0.249,"z":-0.945},{"c":"p","t":11,"r":0.252,"z":-1.037},{"c":"p","t":11,"r":0.262,"z":-1.119},{"c":"p","t":11,"r":0.282,"z":-1.184},{"c":"p","t":11,"r":0.31,"z":-1.246},
{"c":"q","t":19,"r":0.305,"z":1.246},{"c":"q","t":19,"r":0.3,"z":1.237},{"c":"q","t":19,"r":0.277,"z":1.184},{"c":"q","t":19,"r":0.257,"z":1.119},{"c":"q","t":19,"r":0.247,"z":1.037},{"c":"q","t":19,"r":0.244,"z":0.945},{"c":"q","t":19,"r":0.244,"z":0.853},{"c":"q","t":19,"r":0.236,"z":0.779},{"c":"q","t":19,"r":0.219,"z":0.724},{"c":"q","t":19,"r":0.188,"z":0.674},{"c":"q","t":19,"r":0.145,"z":0.632},{"c":"q","t":19,"r":0.106,"z":0.596},{"c":"q","t":19,"r":0.067,"z":0.545},{"c":"q","t":19,"r":0.054,"z":0.522},{"c":"q","t":19,"r":0.048,"z":0.476},{"c":"q","t":19,"r":0.046,"z":0.412},{"c":"q","t":19,"r":0.045,"z":0},{"c":"q","t":19,"r":0.046,"z":-0.412},{"c":"q","t":19,"r":0.048,"z":-0.476},{"c":"q","t":19,"r":0.054,"z":-0.522},{"c":"q","t":19,"r":0.067,"z":-0.545},{"c":"q","t":19,"r":0.106,"z":-0.596},{"c":"q","t":19,"r":0.145,"z":-0.632},{"c":"q","t":19,"r":0.188,"z":-0.674},{"c":"q","t":19,"r":0.219,"z":-0.724},{"c":"q","t":19,"r":0.236,"z":-0.779},{"c":"q","t":19,"r":0.244,"z":-0.853},{"c":"q","t":19,"r":0.244,"z":-0.945},{"c":"q","t":19,"r":0.247,"z":-1.037},{"c":"q","t":19,"r":0.257,"z":-1.119},{"c":"q","t":19,"r":0.277,"z":-1.184},{"c":"q","t":19,"r":0.3,"z":-1.237},{"c":"q","t":19,"r":0.305,"z":-1.246}],
"flux":[
{"c":"a","r":0.53,"z":1.246},{"c":"a","r":0.515,"z":1.237},{"c":"a","r":0.471,"z":1.207},{"c":"a","r":0.432,"z":1.175},{"c":"a","r":0.397,"z":1.129},{"c":"a","r":0.37,"z":1.069},{"c":"a","r":0.36,"z":1.005},{"c":"a","r":0.366,"z":0.936},{"c":"a","r":0.385,"z":0.881},{"c":"a","r":0.416,"z":0.812},{"c":"a","r":0.455,"z":0.738},{"c":"a","r":0.486,"z":0.678},{"c":"a","r":0.513,"z":0.623},{"c":"a","r":0.54,"z":0.586},{"c":"a","r":0.571,"z":0.563},{"c":"a","r":0.618,"z":0.561},{"c":"a","r":0.672,"z":0.554},{"c":"a","r":0.723,"z":0.536},{"c":"a","r":0.758,"z":0.504},{"c":"a","r":0.775,"z":0.458},{"c":"a","r":0.766,"z":0.416},{"c":"a","r":0.742,"z":0.389},{"c":"a","r":0.707,"z":0.368},{"c":"a","r":0.707,"z":0.368},{"c":"a","r":0.656,"z":0.389},{"c":"a","r":0.602,"z":0.412},{"c":"a","r":0.567,"z":0.435},{"c":"a","r":0.548,"z":0.462},{"c":"a","r":0.529,"z":0.485},{"c":"a","r":0.501,"z":0.497},{"c":"a","r":0.463,"z":0.49},{"c":"a","r":0.408,"z":0.471},{"c":"a","r":0.347,"z":0.439},{"c":"a","r":0.3,"z":0.412},{"c":"a","r":0.277,"z":0.389},{"c":"a","r":0.263,"z":0.366},{"c":"a","r":0.254,"z":0.311},{"c":"a","r":0.242,"z":0.219},{"c":"a","r":0.23,"z":0.127},{"c":"a","r":0.215,"z":0.053},{"c":"a","r":0.205,"z":0},{"c":"a","r":0.215,"z":-0.053},{"c":"a","r":0.23,"z":-0.127},{"c":"a","r":0.242,"z":-0.219},{"c":"a","r":0.254,"z":-0.311},{"c":"a","r":0.263,"z":-0.366},{"c":"a","r":0.277,"z":-0.389},{"c":"a","r":0.3,"z":-0.412},{"c":"a","r":0.347,"z":-0.439},{"c":"a","r":0.408,"z":-0.471},{"c":"a","r":0.463,"z":-0.49},{"c":"a","r":0.501,"z":-0.497},{"c":"a","r":0.529,"z":-0.485},{"c":"a","r":0.548,"z":-0.462},{"c":"a","r":0.567,"z":-0.435},{"c":"a","r":0.602,"z":-0.412},{"c":"a","r":0.656,"z":-0.389},{"c":"a","r":0.707,"z":-0.368},{"c":"a","r":0.707,"z":-0.368},{"c":"a","r":0.742,"z":-0.389},{"c":"a","r":0.766,"z":-0.416},{"c":"a","r":0.775,"z":-0.458},{"c":"a","r":0.758,"z":-0.504},{"c":"a","r":0.723,"z":-0.536},{"c":"a","r":0.672,"z":-0.554},{"c":"a","r":0.618,"z":-0.561},{"c":"a","r":0.571,"z":-0.563},{"c":"a","r":0.54,"z":-0.586},{"c":"a","r":0.513,"z":-0.623},{"c":"a","r":0.486,"z":-0.678},{"c":"a","r":0.455,"z":-0.738},{"c":"a","r":0.416,"z":-0.812},{"c":"a","r":0.385,"z":-0.881},{"c":"a","r":0.366,"z":-0.936},{"c":"a","r":0.36,"z":-1.005},{"c":"a","r":0.37,"z":-1.069},{"c":"a","r":0.397,"z":-1.129},{"c":"a","r":0.432,"z":-1.175},{"c":"a","r":0.471,"z":-1.207},{"c":"a","r":0.515,"z":-1.237},{"c":"a","r":0.53,"z":-1.246},
{"c":"r","r":0.866,"z":1.246},{"c":"r","r":0.885,"z":1.237},{"c":"r","r":0.943,"z":1.211},{"c":"r","r":1.005,"z":1.17},{"c":"r","r":1.07,"z":1.114},
{"c":"r'","r":0.866,"z":-1.246},{"c":"r'","r":0.885,"z":-1.237},{"c":"r'","r":0.943,"z":-1.211},{"c":"r'","r":1.005,"z":-1.17},{"c":"r'","r":1.07,"z":-1.114},
{"c":"b","r":0.595,"z":1.193},{"c":"b","r":0.649,"z":1.188},{"c":"b","r":0.711,"z":1.17},{"c":"b","r":0.773,"z":1.133},{"c":"b","r":0.82,"z":1.078},{"c":"b","r":0.844,"z":1.014},{"c":"b","r":0.849,"z":0.959},{"c":"b","r":0.835,"z":0.899},{"c":"b","r":0.804,"z":0.844},{"c":"b","r":0.757,"z":0.802},{"c":"b","r":0.703,"z":0.781},{"c":"b","r":0.649,"z":0.778},{"c":"b","r":0.595,"z":0.789},{"c":"b","r":0.54,"z":0.812},{"c":"b","r":0.494,"z":0.844},{"c":"b","r":0.447,"z":0.885},{"c":"b","r":0.416,"z":0.931},{"c":"b","r":0.399,"z":0.977},{"c":"b","r":0.395,"z":1.018},{"c":"b","r":0.405,"z":1.064},{"c":"b","r":0.432,"z":1.115},{"c":"b","r":0.471,"z":1.152},{"c":"b","r":0.533,"z":1.186},{"c":"b","r":0.595,"z":1.193},
{"c":"b'","r":0.595,"z":-1.193},{"c":"b'","r":0.649,"z":-1.188},{"c":"b'","r":0.711,"z":-1.17},{"c":"b'","r":0.773,"z":-1.133},{"c":"b'","r":0.82,"z":-1.078},{"c":"b'","r":0.844,"z":-1.014},{"c":"b'","r":0.849,"z":-0.959},{"c":"b'","r":0.835,"z":-0.899},{"c":"b'","r":0.804,"z":-0.844},{"c":"b'","r":0.757,"z":-0.802},{"c":"b'","r":0.703,"z":-0.781},{"c":"b'","r":0.649,"z":-0.778},{"c":"b'","r":0.595,"z":-0.789},{"c":"b'","r":0.54,"z":-0.812},{"c":"b'","r":0.494,"z":-0.844},{"c":"b'","r":0.447,"z":-0.885},{"c":"b'","r":0.416,"z":-0.931},{"c":"b'","r":0.399,"z":-0.977},{"c":"b'","r":0.395,"z":-1.018},{"c":"b'","r":0.405,"z":-1.064},{"c":"b'","r":0.432,"z":-1.115},{"c":"b'","r":0.471,"z":-1.152},{"c":"b'","r":0.533,"z":-1.186},{"c":"b'","r":0.595,"z":-1.193},
{"c":"d","r":0.079,"z":0.437},{"c":"d","r":0.079,"z":0.437},{"c":"d","r":0.106,"z":0.412},{"c":"d","r":0.129,"z":0.375},{"c":"d","r":0.137,"z":0.334},{"c":"d","r":0.129,"z":0.292},{"c":"d","r":0.114,"z":0.228},{"c":"d","r":0.102,"z":0.164},{"c":"d","r":0.098,"z":0.099},{"c":"d","r":0.107,"z":0.044},{"c":"d","r":0.119,"z":0},{"c":"d","r":0.107,"z":-0.044},{"c":"d","r":0.098,"z":-0.099},{"c":"d","r":0.102,"z":-0.164},{"c":"d","r":0.114,"z":-0.228},{"c":"d","r":0.129,"z":-0.292},{"c":"d","r":0.137,"z":-0.334},{"c":"d","r":0.129,"z":-0.375},{"c":"d","r":0.106,"z":-0.412},{"c":"d","r":0.079,"z":-0.437},{"c":"d","r":0.079,"z":-0.437},{"c":"d","r":0.077,"z":-0.2},{"c":"d","r":0.076,"z":0},{"c":"d","r":0.077,"z":0.2},{"c":"d","r":0.079,"z":0.437},
{"c":"g","r":0.502,"z":0.306},{"c":"g","r":0.502,"z":0.306},{"c":"g","r":0.564,"z":0.288},{"c":"g","r":0.641,"z":0.256},{"c":"g","r":0.711,"z":0.21},{"c":"g","r":0.765,"z":0.159},{"c":"g","r":0.8,"z":0.099},{"c":"g","r":0.814,"z":0},{"c":"g","r":0.8,"z":-0.099},{"c":"g","r":0.765,"z":-0.159},{"c":"g","r":0.711,"z":-0.21},{"c":"g","r":0.641,"z":-0.256},{"c":"g","r":0.564,"z":-0.288},{"c":"g","r":0.502,"z":-0.306},{"c":"g","r":0.502,"z":-0.306},{"c":"g","r":0.503,"z":-0.246},{"c":"g","r":0.505,"z":-0.182},{"c":"g","r":0.521,"z":-0.09},{"c":"g","r":0.534,"z":0},{"c":"g","r":0.521,"z":0.09},{"c":"g","r":0.505,"z":0.182},{"c":"g","r":0.503,"z":0.246},{"c":"g","r":0.502,"z":0.306},
{"c":"e","r":0.16,"z":0.544},{"c":"e","r":0.184,"z":0.538},{"c":"e","r":0.203,"z":0.519},{"c":"e","r":0.205,"z":0.491},{"c":"e","r":0.191,"z":0.476},{"c":"e","r":0.16,"z":0.463},{"c":"e","r":0.133,"z":0.464},{"c":"e","r":0.118,"z":0.48},{"c":"e","r":0.122,"z":0.511},{"c":"e","r":0.137,"z":0.534},{"c":"e","r":0.16,"z":0.544},
{"c":"e'","r":0.16,"z":-0.544},{"c":"e'","r":0.184,"z":-0.538},{"c":"e'","r":0.203,"z":-0.519},{"c":"e'","r":0.205,"z":-0.491},{"c":"e'","r":0.191,"z":-0.476},{"c":"e'","r":0.16,"z":-0.463},{"c":"e'","r":0.133,"z":-0.464},{"c":"e'","r":0.118,"z":-0.48},{"c":"e'","r":0.122,"z":-0.511},{"c":"e'","r":0.137,"z":-0.534},{"c":"e'","r":0.16,"z":-0.544},
{"c":"s","r":0.148,"z":0.509},{"c":"s","r":0.155,"z":0.517},{"c":"s","r":0.163,"z":0.509},{"c":"s","r":0.155,"z":0.5},{"c":"s","r":0.148,"z":0.509},
{"c":"s'","r":0.148,"z":-0.509},{"c":"s'","r":0.155,"z":-0.517},{"c":"s'","r":0.163,"z":-0.509},{"c":"s'","r":0.155,"z":-0.5},{"c":"s'","r":0.148,"z":-0.509}],
"traces":[
{"c":"w1","j":0.025,"r":0.225,"z":0.458},{"c":"w1","j":0.025,"r":0.58,"z":0.458},
{"c":"w2","j":0.025,"r":0.225,"z":-0.458},{"c":"w2","j":0.025,"r":0.58,"z":-0.458},
{"c":"w3","j":0.025,"r":0.705,"z":0.36},{"c":"w3","j":0.025,"r":0.705,"z":-0.36},
{"c":"w4","j":0.65,"r":0.133,"z":0.458},{"c":"w4","j":0.65,"r":0.19,"z":0.458},
{"c":"w5","j":0.45,"r":0.19,"z":0.458},{"c":"w5","j":0.45,"r":0.207,"z":0.458},
{"c":"w6","j":0.15,"r":0.207,"z":0.458},{"c":"w6","j":0.15,"r":0.225,"z":0.458},
{"c":"w7","j":0.65,"r":0.133,"z":-0.458},{"c":"w7","j":0.65,"r":0.19,"z":-0.458},
{"c":"w8","j":0.45,"r":0.19,"z":-0.458},{"c":"w8","j":0.45,"r":0.207,"z":-0.458},
{"c":"w9","j":0.15,"r":0.207,"z":-0.458},{"c":"w9","j":0.15,"r":0.225,"z":-0.458},
{"c":"x1","j":0.12,"r":0.58,"z":0.458},{"c":"x1","j":0.12,"r":0.6,"z":0.458},
{"c":"x2","j":0.2,"r":0.6,"z":0.458},{"c":"x2","j":0.2,"r":0.705,"z":0.458},{"c":"x2","j":0.2,"r":0.705,"z":0.36},
{"c":"x3","j":0.12,"r":0.58,"z":-0.458},{"c":"x3","j":0.12,"r":0.6,"z":-0.458},
{"c":"x4","j":0.2,"r":0.6,"z":-0.458},{"c":"x4","j":0.2,"r":0.705,"z":-0.458},{"c":"x4","j":0.2,"r":0.705,"z":-0.36},
{"c":"y1","j":0.45,"r":0.1395,"z":0.04},{"c":"y1","j":0.45,"r":0.141,"z":0.1},{"c":"y1","j":0.45,"r":0.148,"z":0.165},
{"c":"y2","j":0.35,"r":0.148,"z":0.165},{"c":"y2","j":0.35,"r":0.164,"z":0.238},
{"c":"y3","j":0.22,"r":0.164,"z":0.238},{"c":"y3","j":0.22,"r":0.188,"z":0.302},
{"c":"y4","j":0.08,"r":0.188,"z":0.302},{"c":"y4","j":0.08,"r":0.219,"z":0.347},{"c":"y4","j":0.08,"r":0.25,"z":0.365},
{"c":"y5","j":0.45,"r":0.1395,"z":-0.04},{"c":"y5","j":0.45,"r":0.141,"z":-0.1},{"c":"y5","j":0.45,"r":0.148,"z":-0.165},
{"c":"y6","j":0.35,"r":0.148,"z":-0.165},{"c":"y6","j":0.35,"r":0.164,"z":-0.238},
{"c":"y7","j":0.22,"r":0.164,"z":-0.238},{"c":"y7","j":0.22,"r":0.188,"z":-0.302},
{"c":"y8","j":0.08,"r":0.188,"z":-0.302},{"c":"y8","j":0.08,"r":0.219,"z":-0.347},{"c":"y8","j":0.08,"r":0.25,"z":-0.365},
{"c":"v1","j":-0.05,"r":0.261,"z":0.371},{"c":"v1","j":-0.05,"r":0.315,"z":0.377},{"c":"v1","j":-0.05,"r":0.362,"z":0.379},{"c":"v1","j":-0.05,"r":0.409,"z":0.365},
{"c":"v2","j":-0.1,"r":0.409,"z":0.365},{"c":"v2","j":-0.1,"r":0.463,"z":0.339},{"c":"v2","j":-0.1,"r":0.517,"z":0.29},
{"c":"v3","j":-0.15,"r":0.517,"z":0.29},{"c":"v3","j":-0.15,"r":0.571,"z":0.23},{"c":"v3","j":-0.15,"r":0.618,"z":0.163},{"c":"v3","j":-0.15,"r":0.649,"z":0.113},{"c":"v3","j":-0.15,"r":0.668,"z":0.076},
{"c":"v4","j":-0.05,"r":0.261,"z":-0.371},{"c":"v4","j":-0.05,"r":0.315,"z":-0.377},{"c":"v4","j":-0.05,"r":0.362,"z":-0.379},{"c":"v4","j":-0.05,"r":0.409,"z":-0.365},
{"c":"v5","j":-0.1,"r":0.409,"z":-0.365},{"c":"v5","j":-0.1,"r":0.463,"z":-0.339},{"c":"v5","j":-0.1,"r":0.517,"z":-0.29},
{"c":"v6","j":-0.15,"r":0.517,"z":-0.29},{"c":"v6","j":-0.15,"r":0.571,"z":-0.23},{"c":"v6","j":-0.15,"r":0.618,"z":-0.163},{"c":"v6","j":-0.15,"r":0.649,"z":-0.113},{"c":"v6","j":-0.15,"r":0.668,"z":-0.076}],
"timebar":[
{"t":0,"t2":0.3},{"t":0.2,"t2":0.5},{"t":0.4,"t2":0.7},{"t":0.6,"t2":0.9},{"t":0.8,"t2":1.1},{"t":1,"t2":1.3},{"t":1.2,"t2":1.5},{"t":1.4,"t2":1.7},{"t":1.6,"t2":1.9},{"t":1.8,"t2":2.1},{"t":2,"t2":2.3},{"t":2.2,"t2":2.5},{"t":2.4,"t2":2.7},{"t":2.6,"t2":2.9},{"t":2.8,"t2":3.1},{"t":3,"t2":3.3},{"t":3.2,"t2":3.5},{"t":3.4,"t2":3.7},{"t":3.6,"t2":3.9},{"t":3.8,"t2":4.1},{"t":4,"t2":4.3},{"t":4.2,"t2":4.5},{"t":4.4,"t2":4.7},{"t":4.6,"t2":4.9},{"t":4.8,"t2":5.1},{"t":5,"t2":5.3},{"t":5.2,"t2":5.5},{"t":5.4,"t2":5.7},{"t":5.6,"t2":5.9},{"t":5.8,"t2":6.1},{"t":6,"t2":6.3},{"t":6.2,"t2":6.5},{"t":6.4,"t2":6.7},{"t":6.6,"t2":6.9},{"t":6.8,"t2":7.1},{"t":7,"t2":7.3},{"t":7.2,"t2":7.5},{"t":7.4,"t2":7.7},{"t":7.6,"t2":7.9},{"t":7.8,"t2":8.1},{"t":8,"t2":8.3},{"t":8.2,"t2":8.5},{"t":8.4,"t2":8.7},{"t":8.6,"t2":8.9},{"t":8.8,"t2":9.1},{"t":9,"t2":9.3},{"t":9.2,"t2":9.5},{"t":9.4,"t2":9.7},{"t":9.6,"t2":9.9},{"t":9.8,"t2":10.1},{"t":10,"t2":10.3},{"t":10.2,"t2":10.5},{"t":10.4,"t2":10.7},{"t":10.6,"t2":10.9},{"t":10.8,"t2":11.1},{"t":11,"t2":11.3},{"t":11.2,"t2":11.5},{"t":11.4,"t2":11.7},{"t":11.6,"t2":11.9},{"t":11.8,"t2":12.1},{"t":12,"t2":12.3},{"t":12.2,"t2":12.5},{"t":12.4,"t2":12.7},{"t":12.6,"t2":12.9},{"t":12.8,"t2":13.1},{"t":13,"t2":13.3},{"t":13.2,"t2":13.5},{"t":13.4,"t2":13.7},{"t":13.6,"t2":13.9},{"t":13.8,"t2":14.1},{"t":14,"t2":14.3},{"t":14.2,"t2":14.5},{"t":14.4,"t2":14.7},{"t":14.6,"t2":14.9},{"t":14.8,"t2":15.1},{"t":15,"t2":15.3},{"t":15.2,"t2":15.5},{"t":15.4,"t2":15.7},{"t":15.6,"t2":15.9},{"t":15.8,"t2":16.1},{"t":16,"t2":16.3},{"t":16.2,"t2":16.5},{"t":16.4,"t2":16.7},{"t":16.6,"t2":16.9},{"t":16.8,"t2":17.1},{"t":17,"t2":17.3},{"t":17.2,"t2":17.5},{"t":17.4,"t2":17.7},{"t":17.6,"t2":17.9},{"t":17.8,"t2":18.1},{"t":18,"t2":18.3},{"t":18.2,"t2":18.5},{"t":18.4,"t2":18.7},{"t":18.6,"t2":18.9},{"t":18.8,"t2":19.1},{"t":19,"t2":19.3},{"t":19.2,"t2":19.5},{"t":19.4,"t2":19.7},{"t":19.6,"t2":19.9},{"t":19.8,"t2":20}],
"jbar":[
{"j":-0.525,"z":-0.55,"z2":-0.49},{"j":-0.475,"z":-0.5,"z2":-0.44},{"j":-0.425,"z":-0.45,"z2":-0.39},{"j":-0.375,"z":-0.4,"z2":-0.34},{"j":-0.325,"z":-0.35,"z2":-0.29},{"j":-0.275,"z":-0.3,"z2":-0.24},{"j":-0.225,"z":-0.25,"z2":-0.19},{"j":-0.175,"z":-0.2,"z2":-0.14},{"j":-0.125,"z":-0.15,"z2":-0.09},{"j":-0.075,"z":-0.1,"z2":-0.04},{"j":-0.025,"z":-0.05,"z2":0.01},{"j":0.025,"z":0,"z2":0.06},{"j":0.075,"z":0.05,"z2":0.11},{"j":0.125,"z":0.1,"z2":0.16},{"j":0.175,"z":0.15,"z2":0.21},{"j":0.225,"z":0.2,"z2":0.26},{"j":0.275,"z":0.25,"z2":0.31},{"j":0.325,"z":0.3,"z2":0.36},{"j":0.375,"z":0.35,"z2":0.41},{"j":0.425,"z":0.4,"z2":0.46},{"j":0.475,"z":0.45,"z2":0.51},{"j":0.525,"z":0.5,"z2":0.56},{"j":0.575,"z":0.55,"z2":0.61},{"j":0.625,"z":0.6,"z2":0.66},{"j":0.675,"z":0.65,"z2":0.71},{"j":0.725,"z":0.7,"z2":0.76},{"j":0.775,"z":0.75,"z2":0.81},{"j":0.825,"z":0.8,"z2":0.86},{"j":0.875,"z":0.85,"z2":0.91},{"j":0.925,"z":0.9,"z2":0.96},{"j":0.975,"z":0.95,"z2":1.01},{"j":1.025,"z":1,"z2":1.06},{"j":1.075,"z":1.05,"z2":1.11},{"j":1.125,"z":1.1,"z2":1.16},{"j":1.175,"z":1.15,"z2":1.2}]
},
"hconcat":[
{"spacing":26.5,"resolve":{"scale":{"color":"shared"}},"hconcat":[
{"width":458,"height":1067,"view":{"fill":"#f5f5f5","stroke":null},
"encoding":{"x":{"field":"r","type":"quantitative","title":"R [m]","scale":{"domain":[0,1.065],"nice":false,"zero":false},"axis":{"values":[0,0.25,0.5,0.75,1],"format":".2f"}},"y":{"field":"z","type":"quantitative","title":"Z [m]","scale":{"domain":[-1.242,1.242],"nice":false,"zero":false},"axis":{"values":[-1,-0.5,0,0.5,1],"format":".1f"}}},
"layer":[
{"data":{"name":"inner"},"mark":{"type":"area","color":"white","orient":"vertical"},"encoding":{"y2":{"field":"z2"}}},
{"data":{"name":"coils"},"mark":{"type":"rect","color":"#808080"},"encoding":{"x2":{"field":"r2"},"y2":{"field":"z2"}}},
{"data":{"name":"walls"},"mark":{"type":"rect","color":"#808080"},"encoding":{"x2":{"field":"r2"},"y2":{"field":"z2"}}},
{"data":{"name":"outline"},"mark":{"type":"line","color":"#808080","strokeWidth":5,"interpolate":"catmull-rom","strokeCap":"butt"},"encoding":{"detail":{"field":"c"},"order":{"value":null}}},
{"data":{"name":"time"},"mark":{"type":"line","strokeWidth":5.8,"interpolate":"catmull-rom","clip":true,"strokeCap":"butt"},"encoding":{"detail":{"field":"c"},"order":{"value":null},"color":{"field":"t","type":"quantitative","legend":null,"scale":{"interpolate":"rgb","domain":[0,2.2,2.5,6.8,7,7.5,12.8,13,13.2,17.8,18.2,20],"range":["#000080","#0000ff","#0000ff","#00dbff","#00e6f8","#15ffe2","#eeff0c","#f7f600","#ffec00","#ff1300","#e80000","#800000"]}}}},
{"data":{"name":"frame"},"mark":{"type":"rect","filled":false,"stroke":"black","strokeWidth":2.2},"encoding":{"x2":{"field":"r2"},"y2":{"field":"z2"}}}
]},
{"width":54,"height":1067,"view":{"fill":null,"stroke":null},
"layer":[
{"data":{"name":"timebar"},"mark":{"type":"rect","clip":true},"encoding":{"y":{"field":"t","type":"quantitative","title":"Time [ms]","scale":{"domain":[0,20],"nice":false,"zero":false},"axis":{"orient":"right","values":[0,2.5,5,7.5,10,12.5,15,17.5,20],"format":".1f","titleAngle":270,"titleBaseline":"top"}},"y2":{"field":"t2"},"color":{"field":"t","type":"quantitative","legend":null,"scale":{"interpolate":"rgb","domain":[0,2.2,2.5,6.8,7,7.5,12.8,13,13.2,17.8,18.2,20],"range":["#000080","#0000ff","#0000ff","#00dbff","#00e6f8","#15ffe2","#eeff0c","#f7f600","#ffec00","#ff1300","#e80000","#800000"]}}}},
{"data":{"values":[{}]},"mark":{"type":"rect","filled":false,"stroke":"black","strokeWidth":2.2}}
]}
]},
{"spacing":29,"resolve":{"scale":{"color":"shared"}},"hconcat":[
{"width":458,"height":1067,"view":{"fill":"#f5f5f5","stroke":null},
"encoding":{"x":{"field":"r","type":"quantitative","title":"R [m]","scale":{"domain":[0,1.065],"nice":false,"zero":false},"axis":{"values":[0,0.25,0.5,0.75,1],"format":".2f"}},"y":{"field":"z","type":"quantitative","title":null,"scale":{"domain":[-1.242,1.242],"nice":false,"zero":false},"axis":{"values":[-1,-0.5,0,0.5,1],"labels":false}}},
"layer":[
{"data":{"name":"inner"},"mark":{"type":"area","color":"white","orient":"vertical"},"encoding":{"y2":{"field":"z2"}}},
{"data":{"name":"traces"},"mark":{"type":"line","strokeWidth":4.2,"strokeCap":"butt"},"encoding":{"detail":{"field":"c"},"order":{"value":null},"color":{"field":"j","type":"quantitative","legend":null,"scale":{"interpolate":"rgb","domain":[-0.6,0,0.6,1.2],"range":["#0000ff","#ffffff","#ff0000","#800000"]}}}},
{"data":{"name":"coils"},"mark":{"type":"rect","color":"#808080"},"encoding":{"x2":{"field":"r2"},"y2":{"field":"z2"}}},
{"data":{"name":"flux"},"mark":{"type":"line","color":"black","strokeWidth":5.8,"interpolate":"catmull-rom","clip":true,"strokeCap":"butt"},"encoding":{"detail":{"field":"c"},"order":{"value":null}}},
{"data":{"name":"frame"},"mark":{"type":"rect","filled":false,"stroke":"black","strokeWidth":2.2},"encoding":{"x2":{"field":"r2"},"y2":{"field":"z2"}}}
]},
{"width":54,"height":1067,"view":{"fill":null,"stroke":null},"title":{"text":"1e7","font":"DejaVu Sans","fontWeight":"bold","fontSize":27,"anchor":"middle","offset":-12,"color":"black"},
"layer":[
{"data":{"name":"jbar"},"mark":{"type":"rect","clip":true},"encoding":{"y":{"field":"z","type":"quantitative","title":"Jw [A/m²]","scale":{"domain":[-0.55,1.2],"nice":false,"zero":false},"axis":{"orient":"right","values":[-0.4,-0.2,0,0.2,0.4,0.6,0.8,1,1.2],"format":".1f","titleAngle":270,"titleBaseline":"top","titleFontStyle":"italic","titlePadding":17}},"y2":{"field":"z2"},"color":{"field":"j","type":"quantitative","legend":null,"scale":{"interpolate":"rgb","domain":[-0.6,0,0.6,1.2],"range":["#0000ff","#ffffff","#ff0000","#800000"]}}}},
{"data":{"values":[{}]},"mark":{"type":"rect","filled":false,"stroke":"black","strokeWidth":2.2}}
]}
]}
]}
